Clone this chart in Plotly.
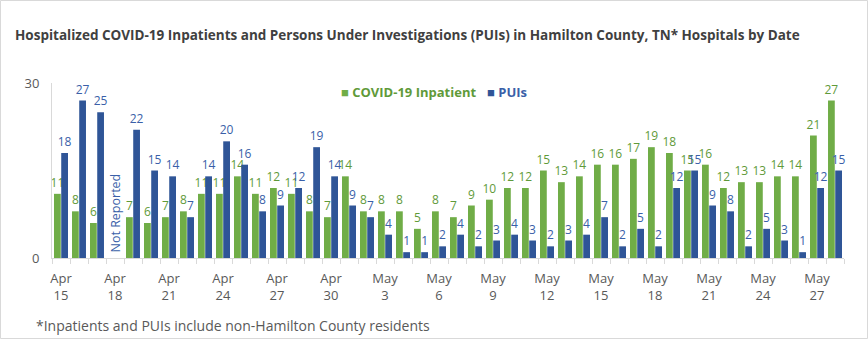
import pandas as pd
import plotly.graph_objects as go

# Daily hospital census, Apr 15 - May 28 (Apr 18 not reported)
dates = pd.date_range("2020-04-15", "2020-05-28")
categories = [f"{d.strftime('%b')} {d.day}" for d in dates]

inpatients = [11, 8, 6, None, 7, 6, 7, 8, 11, 11, 14, 11, 12, 11, 8, 7,
              14, 8, 8, 8, 5, 8, 7, 9, 10, 12, 12, 15, 13, 14, 16, 16,
              17, 19, 18, 15, 16, 12, 13, 13, 14, 14, 21, 27]
puis = [18, 27, 25, None, 22, 15, 14, 7, 14, 20, 16, 8, 9, 12, 19, 14,
        9, 7, 4, 1, 1, 2, 4, 2, 3, 4, 3, 2, 3, 4, 7, 2,
        5, 2, 12, 15, 9, 8, 2, 5, 3, 1, 12, 15]

series_names = ["COVID-19 Inpatient", "PUIs"]
bar_colors = ["#70AD47", "#2F5597"]
label_colors = ["#5F9A39", "#3A5FA8"]
missing_day = "Apr 18"
missing_text = "Not Reported"

title = ("Hospitalized COVID-19 Inpatients and Persons Under Investigations "
         "(PUIs) in Hamilton County, TN* Hospitals by Date")
footnote = "*Inpatients and PUIs include non-Hamilton County residents"

# Two-line tick labels every third day, blank elsewhere
tick_text = [c.replace(" ", "<br>") if i % 3 == 0 else "" for i, c in enumerate(categories)]

FONT = "Open Sans"

fig = go.Figure()
for name, vals, col, lcol in zip(series_names, [inpatients, puis], bar_colors, label_colors):
    fig.add_trace(go.Bar(
        x=categories, y=vals, name=name,
        marker=dict(color=col, line=dict(width=0)),
        text=[("" if v is None else str(v)) for v in vals],
        textposition="outside", constraintext="none", cliponaxis=False,
        textfont=dict(family=FONT, size=12, color=lcol),
        showlegend=False,
    ))

W, H = 868, 339
ml, mr, mt, mb = 52, 24, 83, 81
pw, ph = W - ml - mr, H - mt - mb

def px_x(x):
    return (x - ml) / pw

def px_y(y):
    return (H - mb - y) / ph

annotations = [
    dict(text=title, x=px_x(13), y=px_y(35), xref="paper", yref="paper",
         xanchor="left", yanchor="middle", showarrow=False,
         font=dict(family=FONT, size=13.5, color="#404040", weight="bold")),
    dict(text=footnote, x=px_x(34), y=px_y(325), xref="paper", yref="paper",
         xanchor="left", yanchor="middle", showarrow=False,
         font=dict(family=FONT, size=14, color="#595959")),
    dict(text=missing_text, x=missing_day, y=0, xref="x", yref="y",
         xanchor="center", yanchor="bottom", textangle=-90, showarrow=False,
         yshift=3, font=dict(family=FONT, size=12.5, color=label_colors[1])),
]

# Legend entries: coloured square and coloured name
legend_x = [339, 485]
for name, col, lcol, lx in zip(series_names, bar_colors, label_colors, legend_x):
    annotations.append(dict(
        text=f"<span style='color:{col}'>■</span> {name}",
        x=px_x(lx), y=px_y(92), xref="paper", yref="paper",
        xanchor="left", yanchor="middle", showarrow=False,
        font=dict(family=FONT, size=13, color=lcol, weight="bold")))

# Light frame around the whole chart
shapes = [dict(type="rect", xref="paper", yref="paper",
               x0=px_x(0.5), x1=px_x(W - 0.5), y0=px_y(H - 0.5), y1=px_y(0.5),
               line=dict(color="#D9D9D9", width=1), fillcolor="rgba(0,0,0,0)")]

fig.update_layout(
    width=W, height=H,
    margin=dict(l=ml, r=mr, t=mt, b=mb),
    paper_bgcolor="white", plot_bgcolor="white",
    barmode="group", bargap=0.2, bargroupgap=0.06,
    annotations=annotations, shapes=shapes,
    font=dict(family=FONT, color="#595959"),
    xaxis=dict(
        type="category", categoryorder="array", categoryarray=categories,
        tickmode="array", tickvals=categories, ticktext=tick_text,
        tickson="boundaries", ticks="outside", ticklen=5, tickcolor="#D9D9D9",
        showline=True, linecolor="#D9D9D9", linewidth=1, showgrid=False,
        tickfont=dict(family=FONT, size=13, color="#595959"), tickangle=0,
        ticklabelstandoff=8,
    ),
    yaxis=dict(
        range=[0, 30], tickmode="array", tickvals=[0, 30],
        showline=True, linecolor="#D9D9D9", linewidth=1, showgrid=False,
        zeroline=False, ticks="", ticklen=0, ticklabelstandoff=9,
        tickfont=dict(family=FONT, size=13, color="#595959"),
    ),
)

fig.write_html("out.html")
